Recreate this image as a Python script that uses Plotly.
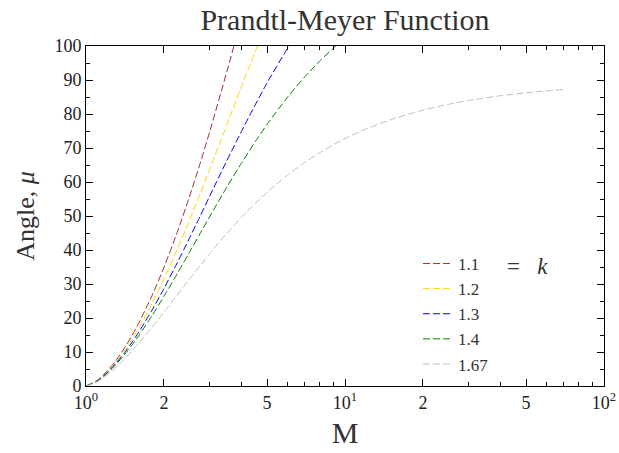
import plotly.graph_objects as go

# Mach numbers at which the curves were read
mach = [1.0, 1.1, 1.2, 1.3, 1.4, 1.5, 1.6, 1.8, 2.0, 2.25, 2.5, 2.75, 3.0, 3.5, 4.0,
        4.5, 5.0, 6.0, 7.0, 8.0, 9.0, 10.0, 12.0, 15.0, 20.0, 25.0, 30.0, 40.0, 50.0, 70.0]

# Prandtl-Meyer angle (deg) for each ratio of specific heats k
nu_k110 = [0.0, 1.55, 4.19, 7.36, 10.89, 14.64, 18.55, 26.64, 34.89, 45.18, 55.32, 65.13, 74.66, 92.49, 108.71]
nu_k120 = [0.0, 1.47, 3.95, 6.92, 10.17, 13.59, 17.13, 24.30, 31.46, 40.16, 48.46, 56.29, 63.65, 76.92, 88.45, 98.39, 106.94]
nu_k130 = [0.0, 1.40, 3.75, 6.52, 9.53, 12.67, 15.90, 22.36, 28.68, 36.22, 43.25, 49.76, 55.76, 66.32, 75.15, 82.68, 89.14, 99.34, 107.09]
nu_k140 = [0.0, 1.34, 3.56, 6.17, 8.99, 11.91, 14.86, 20.73, 26.38, 33.02, 39.12, 44.69, 49.76, 58.53, 65.78, 71.83, 76.92, 84.96, 90.97, 95.62, 99.32, 102.32]
nu_k167 = [0.0, 1.19, 3.13, 5.38, 7.77, 10.20, 12.62, 17.33, 21.74, 26.77, 31.30, 35.27, 38.88, 44.91, 49.77, 53.66, 56.95, 62.03, 65.79, 68.66, 70.93, 72.76, 75.52, 78.32, 81.14, 82.83, 83.97, 85.39, 86.24, 87.22]

series_names = ["1.1", "1.2", "1.3", "1.4", "1.67"]
series_values = [nu_k110, nu_k120, nu_k130, nu_k140, nu_k167]
series_colors = ["#a52a2a", "#ffd700", "#0000ff", "#008000", "#c0c0c0"]

x_tick_vals = [1, 2, 5, 10, 20, 50, 100]
x_tick_text = ["10<sup>0</sup>", "2", "5", "10<sup>1</sup>", "2", "5", "10<sup>2</sup>"]
x_minor_vals = [3, 4, 6, 7, 8, 9, 30, 40, 60, 70, 80, 90]

FONT = "Liberation Serif, Times New Roman, serif"
TXT = "#222222"

fig = go.Figure()
for name, vals, col in zip(series_names, series_values, series_colors):
    fig.add_trace(go.Scatter(
        x=mach[:len(vals)], y=vals, mode="lines", name=name,
        line=dict(color=col, width=1, dash="7px,3px", shape="spline", smoothing=0.6),
    ))

fig.add_annotation(text="=&nbsp;&nbsp;&nbsp;<i>k</i>", xref="paper", yref="paper",
                   x=(505 - 86) / 518, y=(386 - 266) / 340, xanchor="left", yanchor="middle",
                   showarrow=False, font=dict(family=FONT, size=23, color="#333333"))

fig.update_layout(
    width=619, height=453,
    margin=dict(l=86, r=15, t=46, b=67, autoexpand=False),
    paper_bgcolor="white", plot_bgcolor="white",
    font=dict(family=FONT, size=18, color=TXT),
    title=dict(text="Prandtl-Meyer Function", x=(86 + 604) / 2 / 619, xanchor="center",
               y=1 - 19 / 453, yanchor="middle", font=dict(family=FONT, size=30, color="#333333")),
    showlegend=True,
    legend=dict(x=(418 - 86) / 518, y=(386 - 246) / 340, xanchor="left", yanchor="top",
                bgcolor="rgba(0,0,0,0)", font=dict(family=FONT, size=17, color="#333333"),
                tracegroupgap=0),
    xaxis=dict(type="log", range=[0, 2], tickmode="array", tickvals=x_tick_vals,
               ticktext=x_tick_text, ticks="inside", ticklen=7, tickcolor="black",
               showline=True, linecolor="black", linewidth=1, mirror="ticks",
               showgrid=False, zeroline=False, automargin=False,
               minor=dict(tickmode="array", tickvals=x_minor_vals, ticks="inside",
                          ticklen=4, tickcolor="black", showgrid=False),
               title=dict(text="M", font=dict(family=FONT, size=30, color="#333333"), standoff=10),
               tickfont=dict(family=FONT, size=18, color=TXT)),
    yaxis=dict(range=[0, 100], tickmode="linear", tick0=0, dtick=10, ticks="inside",
               ticklen=7, tickcolor="black", showline=True, linecolor="black", linewidth=1,
               mirror="ticks", showgrid=False, zeroline=False, automargin=False,
               minor=dict(dtick=5, ticks="inside", ticklen=4, tickcolor="black", showgrid=False),
               title=dict(text="Angle, <i>μ</i>", font=dict(family=FONT, size=26, color="#333333"), standoff=12),
               tickfont=dict(family=FONT, size=18, color=TXT)),
)

fig.write_html("out.html", config={"displayModeBar": False},
               post_script="document.body.style.margin='0';document.body.style.overflow='hidden';")
